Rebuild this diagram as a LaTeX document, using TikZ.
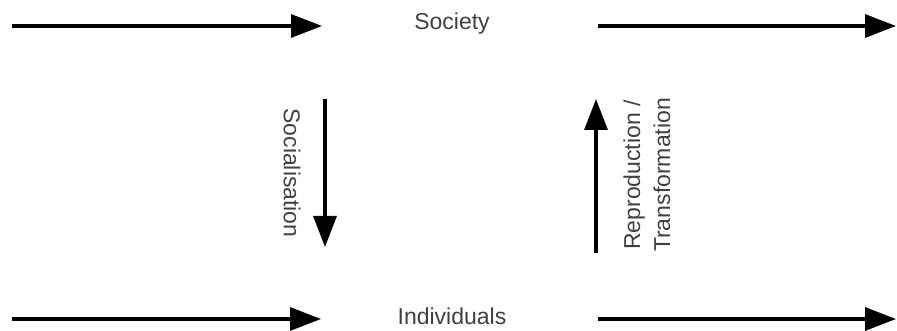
\documentclass[tikz,border=0pt]{standalone}
\usepackage{fontspec}
\setmainfont{Liberation Sans}
\usetikzlibrary{arrows.meta}

\begin{document}
\begin{tikzpicture}[
  x=1pt, y=-1pt,
  label/.style={font=\fontsize{23}{30}\selectfont, text=black!75,
                inner sep=0pt, align=center},
  flow/.style={-{Triangle[length=31pt,width=23pt]}, line width=3.2pt},
]
\useasboundingbox (0,0) rectangle (897,331);

% ---- Ebenen ----
\node[label] (society)     at (452,24)  {Society};
\node[label] (individuals) at (452,316) {Individuals};

% ---- Pfeilenden ----
\coordinate (s-in-a)  at (12,26);   \coordinate (s-in-b)  at (322,26);
\coordinate (s-out-a) at (598,26);  \coordinate (s-out-b) at (896,26);
\coordinate (i-in-a)  at (12,319);  \coordinate (i-in-b)  at (321,319);
\coordinate (i-out-a) at (598,319); \coordinate (i-out-b) at (896,319);
\coordinate (soc-a)   at (325,99);  \coordinate (soc-b)   at (325,247);
\coordinate (rep-a)   at (596,253); \coordinate (rep-b)   at (596,99);

% ---- Zeitachse ----
\draw[flow] (s-in-a)  -- (s-in-b);
\draw[flow] (s-out-a) -- (s-out-b);
\draw[flow] (i-in-a)  -- (i-in-b);
\draw[flow] (i-out-a) -- (i-out-b);

% ---- Wechselwirkung ----
\draw[flow] (soc-a) -- (soc-b);
\draw[flow] (rep-a) -- (rep-b);

\node[label, rotate=-90] (socialisation) at (292,173) {Socialisation};
\node[label, rotate=90]  (reproduction)  at (647,175)
     {Reproduction /\\Transformation};

\end{tikzpicture}
\end{document}
